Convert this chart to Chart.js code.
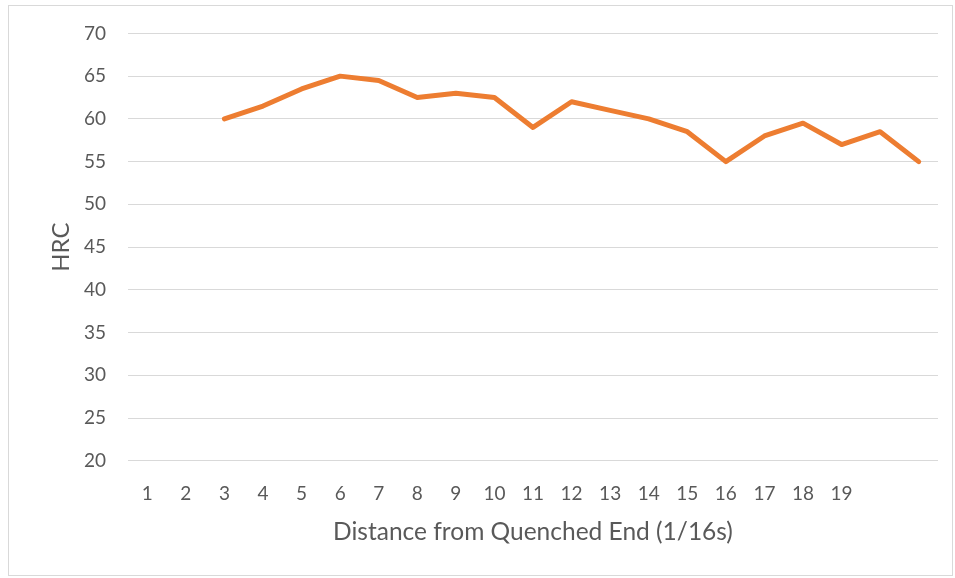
<!DOCTYPE html>
<html><head><meta charset="utf-8">
<script src="https://cdn.jsdelivr.net/npm/chart.js@4"></script>
<style>html,body{margin:0;padding:0;background:#fff}#wrap{width:955px;height:578px;position:relative}</style>
</head><body><div id="wrap"><canvas id="c" width="955" height="578"></canvas></div>
<script>
const categories = ['1','2','3','4','5','6','7','8','9','10','11','12','13','14','15','16','17','18','19','',''];
const hrcValues = [null,null,60,61.5,63.5,65,64.5,62.5,63,62.5,59,62,61,60,58.5,55,58,59.5,57,58.5,55];
const yTicks = [20,25,30,35,40,45,50,55,60,65,70];

const FONT = 'Lato, "Open Sans", sans-serif';
const TXT = '#595959';
const borderPlugin = {
  id:'border',
  afterDraw(chart){
    const ctx = chart.ctx; ctx.save();
    ctx.strokeStyle = '#d9d9d9'; ctx.lineWidth = 1;
    ctx.strokeRect(8.5,5.5,944,570);
    ctx.restore();
  }
};
new Chart(document.getElementById('c'), {
  type:'line',
  data:{labels:categories, datasets:[{data:hrcValues, borderColor:'#ED7D31', borderWidth:5, pointRadius:0, borderCapStyle:'round', borderJoinStyle:'round', tension:0, spanGaps:false}]},
  options:{
    responsive:false, animation:false,
    layout:{padding:{left:43,top:25,right:17,bottom:31}},
    plugins:{legend:{display:false}, tooltip:{enabled:false}},
    scales:{
      x:{
        offset:true,
        grid:{display:false}, border:{display:false},
        ticks:{autoSkip:false, maxRotation:0, color:TXT, font:{family:FONT,size:19}, padding:14},
        title:{display:true, text:'Distance from Quenched End (1/16s)', color:TXT, font:{family:FONT,size:24.5}, padding:{top:-2,bottom:0}}
      },
      y:{
        min:20, max:70,
        afterBuildTicks(s){ s.ticks = yTicks.map(v=>({value:v})); },
        afterFit(s){ s.width = 85; },
        grid:{color:'#d9d9d9', lineWidth:1, drawTicks:false}, border:{display:false},
        ticks:{color:TXT, font:{family:FONT,size:19}, padding:22},
        title:{display:true, text:'HRC', color:TXT, font:{family:FONT,size:24}, padding:{bottom:6}}
      }
    }
  },
  plugins:[borderPlugin]
});
</script></body></html>
